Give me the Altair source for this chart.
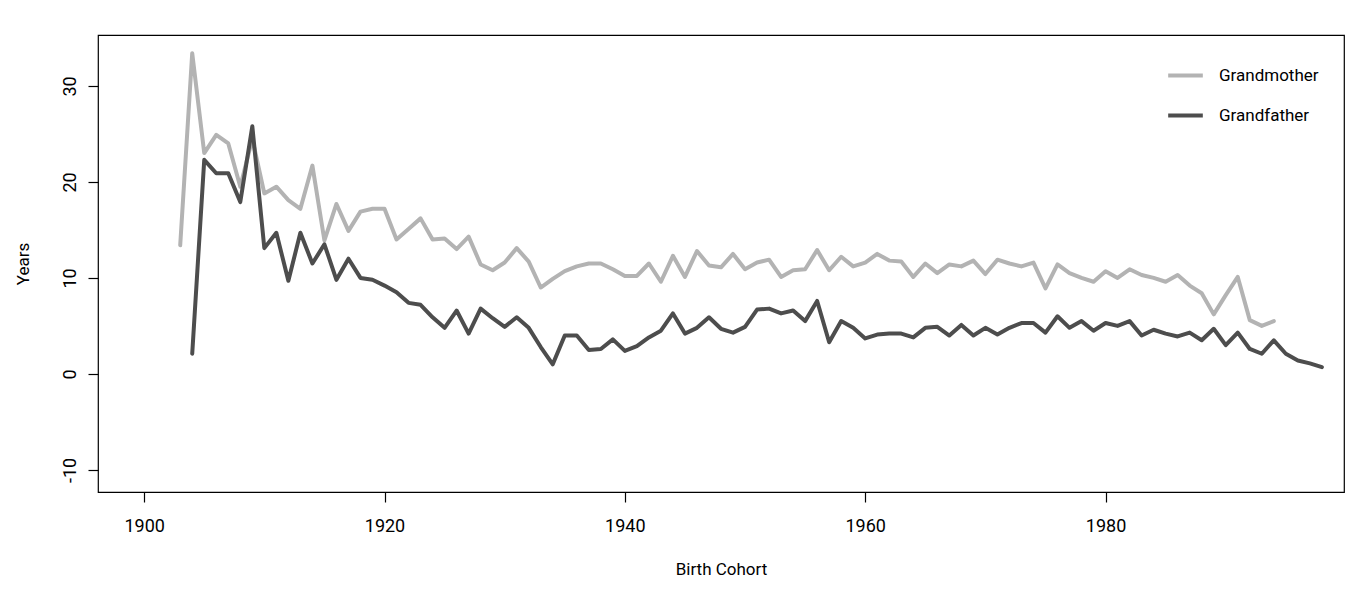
import altair as alt
import pandas as pd

# Years by birth cohort: grandmother vs grandfather
gm_years = list(range(1903, 1995))
gm_values = [
    13.4, 33.4, 23.0, 24.9, 24.0, 19.5, 24.5, 18.8, 19.5, 18.1,
    17.2, 21.7, 13.9, 17.7, 14.9, 16.9, 17.2, 17.2, 14.0, 15.1,
    16.2, 14.0, 14.1, 13.0, 14.3, 11.4, 10.8, 11.6, 13.1, 11.7,
    9.0, 9.9, 10.7, 11.2, 11.5, 11.5, 10.9, 10.2, 10.2, 11.5,
    9.6, 12.3, 10.1, 12.8, 11.3, 11.1, 12.5, 10.9, 11.6, 11.9,
    10.1, 10.8, 10.9, 12.9, 10.8, 12.2, 11.2, 11.6, 12.5, 11.8,
    11.7, 10.1, 11.5, 10.5, 11.4, 11.2, 11.8, 10.4, 11.9, 11.5,
    11.2, 11.6, 8.9, 11.4, 10.5, 10.0, 9.6, 10.7, 10.0, 10.9,
    10.3, 10.0, 9.6, 10.3, 9.2, 8.4, 6.2, 8.2, 10.1, 5.6,
    5.0, 5.5,
]

gf_years = list(range(1904, 1999))
gf_values = [
    2.1, 22.3, 20.9, 20.9, 17.9, 25.8, 13.1, 14.7, 9.7, 14.7,
    11.5, 13.5, 9.8, 12.0, 10.0, 9.8, 9.2, 8.5, 7.4, 7.2,
    5.9, 4.8, 6.6, 4.2, 6.8, 5.8, 4.9, 5.9, 4.8, 2.8,
    1.0, 4.0, 4.0, 2.5, 2.6, 3.6, 2.4, 2.9, 3.8, 4.5,
    6.3, 4.2, 4.8, 5.9, 4.7, 4.3, 4.9, 6.7, 6.8, 6.3,
    6.6, 5.5, 7.6, 3.3, 5.5, 4.8, 3.7, 4.1, 4.2, 4.2,
    3.8, 4.8, 4.9, 4.0, 5.1, 4.0, 4.8, 4.1, 4.8, 5.3,
    5.3, 4.3, 6.0, 4.8, 5.5, 4.5, 5.3, 5.0, 5.5, 4.0,
    4.6, 4.2, 3.9, 4.3, 3.5, 4.7, 3.0, 4.3, 2.6, 2.1,
    3.5, 2.1, 1.4, 1.1, 0.7,
]

x_ticks = [1900, 1920, 1940, 1960, 1980]
y_ticks = [-10, 0, 10, 20, 30]
series = ["Grandmother", "Grandfather"]
colors = ["#b3b3b3", "#4d4d4d"]

FONT = "Roboto"

df = pd.concat([
    pd.DataFrame({"Cohort": gm_years, "Years": gm_values, "Who": "Grandmother"}),
    pd.DataFrame({"Cohort": gf_years, "Years": gf_values, "Who": "Grandfather"}),
])

chart = (
    alt.Chart(df)
    .mark_line(strokeWidth=4, strokeJoin="round", strokeCap="round")
    .encode(
        x=alt.X(
            "Cohort:Q",
            title="Birth Cohort",
            scale=alt.Scale(domain=[1896.16, 1999.84], nice=False, zero=False),
            axis=alt.Axis(
                values=x_ticks, format="d", grid=False, domain=False,
                tickSize=10, tickColor="black", tickWidth=1.2,
                labelPadding=15, labelFontSize=18, labelFont=FONT, labelColor="black",
                titleFontSize=17, titleFont=FONT, titleFontWeight="normal",
                titleColor="black", titlePadding=26,
            ),
        ),
        y=alt.Y(
            "Years:Q",
            title="Years",
            scale=alt.Scale(domain=[-12.3, 35.3], nice=False, zero=False),
            axis=alt.Axis(
                values=y_ticks, grid=False, domain=False,
                labelExpr="'' + datum.value",
                tickSize=10, tickColor="black", tickWidth=1.2,
                labelAngle=270, labelAlign="center", labelBaseline="bottom",
                labelPadding=9, labelFontSize=18, labelFont=FONT, labelColor="black",
                titleFontSize=17, titleFont=FONT, titleFontWeight="normal",
                titleColor="black", titlePadding=29,
            ),
        ),
        color=alt.Color(
            "Who:N",
            scale=alt.Scale(domain=series, range=colors),
            legend=alt.Legend(
                title=None, orient="none", legendX=1068, legendY=21,
                symbolType="stroke", symbolSize=1200, symbolStrokeWidth=4,
                labelFontSize=17, labelFont=FONT, labelColor="black",
                labelOffset=14, rowPadding=12,
            ),
        ),
        detail="Who:N",
    )
    .properties(
        width=1246,
        height=457,
        background="white",
        autosize=alt.AutoSizeParams(type="none"),
        padding={"left": 90, "top": 27, "right": 10, "bottom": 100},
    )
    .configure_view(stroke="black", strokeWidth=1.2)
)

chart.save("out.html", embed_options={"renderer": "svg", "actions": False})
